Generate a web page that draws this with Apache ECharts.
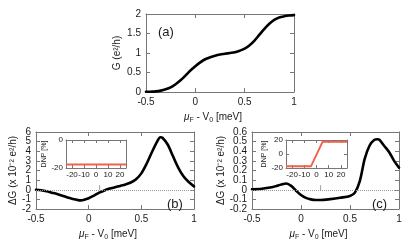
<!DOCTYPE html>
<html><head><meta charset="utf-8">
<script src="https://cdn.jsdelivr.net/npm/echarts@6/dist/echarts.min.js"></script>
<style>html,body{margin:0;padding:0;background:#fff}#c{width:416px;height:252px}</style>
</head><body><div id="c"></div>
<script>
// Panel (a): conductance G (e^2/h) vs muF - V0 (meV)
const muA = [-0.5,-0.45,-0.4,-0.35,-0.3,-0.25,-0.2,-0.15,-0.1,-0.05,0,0.05,0.1,0.15,0.2,0.25,0.3,0.35,0.4,0.45,0.5,0.55,0.6,0.65,0.7,0.75,0.8,0.85,0.9,0.95,1.0];
const gA  = [0.005,0.008,0.015,0.035,0.07,0.12,0.2,0.3,0.42,0.55,0.66,0.76,0.84,0.89,0.93,0.96,0.98,1.0,1.02,1.06,1.11,1.2,1.32,1.47,1.62,1.75,1.85,1.91,1.94,1.96,1.97];
// Panel (b): dG (x1e-2 e^2/h)
const muB = [-0.5,-0.45,-0.4,-0.35,-0.3,-0.25,-0.2,-0.15,-0.1,-0.07,-0.05,0,0.05,0.1,0.15,0.2,0.25,0.3,0.35,0.4,0.45,0.5,0.55,0.6,0.65,0.68,0.7,0.75,0.8,0.85,0.9,0.95,1.0];
const dGB = [0,-0.05,-0.15,-0.3,-0.45,-0.62,-0.8,-0.97,-1.08,-1.1,-1.06,-0.88,-0.6,-0.3,-0.07,0.12,0.26,0.4,0.55,0.75,1.1,1.7,2.7,3.9,5.0,5.45,5.4,4.7,3.5,2.3,1.4,0.8,0.35];
// Panel (c): dG (x1e-2 e^2/h)
const muC = [-0.5,-0.4,-0.3,-0.25,-0.2,-0.15,-0.1,-0.05,0,0.05,0.1,0.15,0.2,0.3,0.4,0.5,0.55,0.6,0.65,0.7,0.75,0.78,0.8,0.85,0.9,0.95,1.0];
const dGC = [0.005,0.01,0.025,0.04,0.055,0.065,0.04,-0.01,-0.055,-0.085,-0.1,-0.107,-0.107,-0.097,-0.083,-0.065,-0.03,0.09,0.32,0.46,0.52,0.525,0.52,0.455,0.39,0.3,0.23];
// Insets: DNP [%] vs field
const fieldB = [-25,25];
const dnpB = [-17.5,-17.5];
const fieldC = [-25,-4.5,5,25];
const dnpC = [-17.5,-17.5,17.5,17.5];
// Tick labels
const muTicks = [-0.5,0,0.5,1];
const gTicks = [0,0.5,1,1.5,2];
const dGBTicks = [-2,-1,0,1,2,3,4,5,6];
const dGCTicks = [-0.2,-0.1,0,0.1,0.2,0.3,0.4,0.5,0.6];
const insetXTicks = [-20,-10,0,10,20];
const dnpBTicks = [-20,0];
const dnpCTicks = [-20,0,20];

const FONT = 'Liberation Sans';
const FRAME = '#777';
const TXT = '#1a1a1a';
const pairs = (xs, ys) => xs.map((x, i) => [x, ys[i]]);

const grids = [
  {left:146, top:14, width:148, height:78},
  {left:36, top:132, width:158, height:77},
  {left:252, top:132, width:147, height:77},
  {left:66, top:140, width:60, height:28},
  {left:286, top:140, width:61, height:28}
];
const xAxes = [], yAxes = [];
const muName = '{mu|μ}{sub|F} - V{sub|0} [meV]';
const muRich = {mu:{fontStyle:'italic', fontSize:10, fontFamily:FONT, color:TXT}, sub:{fontSize:7, fontFamily:FONT, color:TXT, padding:[6,0,0,0]}};

function axis(g, pos, min, max, ticks, labelValues, small, extra) {
  const tickLen = small ? 3 : 4;
  return Object.assign({
    gridIndex:g, type:'value', position:pos, min:min, max:max,
    axisLine:{show:true, onZero:false, lineStyle:{color:FRAME, width:1}},
    axisTick:{show:true, inside:true, length:tickLen, lineStyle:{color:FRAME}, customValues:ticks},
    splitLine:{show:false},
    axisLabel:{show:!!labelValues, fontSize:small?8:10, fontFamily:FONT, color:TXT, margin:small?3:5, customValues:labelValues || ticks}
  }, extra || {});
}
// returns [xIndex, yIndex] of the bottom/left axes
function addAxes(g, x, y, small, split) {
  const xi = xAxes.length, yi = yAxes.length;
  const yLabels = split ? y.ticks.filter((v, i) => i % 2 === 0) : y.ticks;
  xAxes.push(axis(g, 'bottom', x.min, x.max, x.ticks, x.ticks, small, x.extra), axis(g, 'top', x.min, x.max, x.ticks, null, small));
  yAxes.push(axis(g, 'left', y.min, y.max, y.ticks, yLabels, small, y.extra), axis(g, 'right', y.min, y.max, y.ticks, null, small));
  if (split) {
    const odd = axis(g, 'left', y.min, y.max, y.ticks, y.ticks.filter((v, i) => i % 2 === 1), small);
    odd.axisLine = {show:false, onZero:false};
    odd.axisTick = {show:false};
    yAxes.push(odd);
  }
  return [xi, yi];
}

const xName = {name:muName, nameLocation:'middle', nameGap:19, nameTextStyle:{fontSize:10, fontFamily:FONT, color:TXT, padding:[0,14,0,0], rich:muRich}};
const yNameStyle = {fontSize:10, fontFamily:FONT, color:TXT};
const axA = addAxes(0, {min:-0.5, max:1, ticks:muTicks, extra:xName},
  {min:0, max:2, ticks:gTicks, extra:{name:'G (e²/h)', nameLocation:'middle', nameGap:24, nameTextStyle:yNameStyle}}, false, false);
const axB = addAxes(1, {min:-0.5, max:1, ticks:muTicks, extra:xName},
  {min:-2, max:6, ticks:dGBTicks, extra:{name:'ΔG (x 10⁻² e²/h)', nameLocation:'middle', nameGap:15, nameTextStyle:yNameStyle}}, false, true);
const axC = addAxes(2, {min:-0.5, max:1, ticks:muTicks, extra:xName},
  {min:-0.2, max:0.6, ticks:dGCTicks, extra:{name:'ΔG (x 10⁻² e²/h)', nameLocation:'middle', nameGap:25, nameTextStyle:yNameStyle}}, false, true);
const dnpName = {name:'DNP [%]', nameLocation:'middle', nameGap:14, nameTextStyle:{fontSize:7, fontFamily:FONT, color:TXT}};
const axIB = addAxes(3, {min:-25, max:25, ticks:insetXTicks}, {min:-20, max:0, ticks:dnpBTicks, extra:dnpName}, true, false);
const axIC = addAxes(4, {min:-25, max:25, ticks:insetXTicks}, {min:-20, max:20, ticks:dnpCTicks, extra:dnpName}, true, false);

const zeroLine = {silent:true, symbol:['none','none'], label:{show:false}, lineStyle:{type:'dotted', color:'#999', width:1}, data:[{yAxis:0}]};
const curve = (ax, data, extra) => Object.assign({type:'line', xAxisIndex:ax[0], yAxisIndex:ax[1], data:data, showSymbol:false, smooth:0.3, lineStyle:{color:'#000', width:2.6, join:'round', cap:'round'}, animation:false, z:3}, extra || {});
const red = (ax, data) => ({type:'line', xAxisIndex:ax[0], yAxisIndex:ax[1], data:data, showSymbol:false, lineStyle:{color:'#f2604e', width:1.8}, animation:false});

const chart = echarts.init(document.getElementById('c'), null, {renderer:'canvas'});
chart.setOption({
  animation:false,
  backgroundColor:'#fff',
  grid:grids,
  xAxis:xAxes,
  yAxis:yAxes,
  title:[
    {text:'(a)', left:153, top:21, textStyle:{fontSize:13, fontWeight:'normal', fontFamily:FONT, color:TXT}},
    {text:'(b)', left:162, top:193, textStyle:{fontSize:13, fontWeight:'normal', fontFamily:FONT, color:TXT}},
    {text:'(c)', left:367, top:193, textStyle:{fontSize:13, fontWeight:'normal', fontFamily:FONT, color:TXT}},
    {text:'i', left:94, top:180, textStyle:{fontSize:7, fontWeight:'normal', fontFamily:FONT, color:'#666'}},
    {text:'i', left:315, top:180, textStyle:{fontSize:7, fontWeight:'normal', fontFamily:FONT, color:'#666'}}
  ],
  series:[
    curve(axA, pairs(muA, gA)),
    curve(axB, pairs(muB, dGB), {markLine:zeroLine}),
    curve(axC, pairs(muC, dGC), {markLine:zeroLine}),
    red(axIB, pairs(fieldB, dnpB)),
    red(axIC, pairs(fieldC, dnpC))
  ]
});
</script></body></html>
